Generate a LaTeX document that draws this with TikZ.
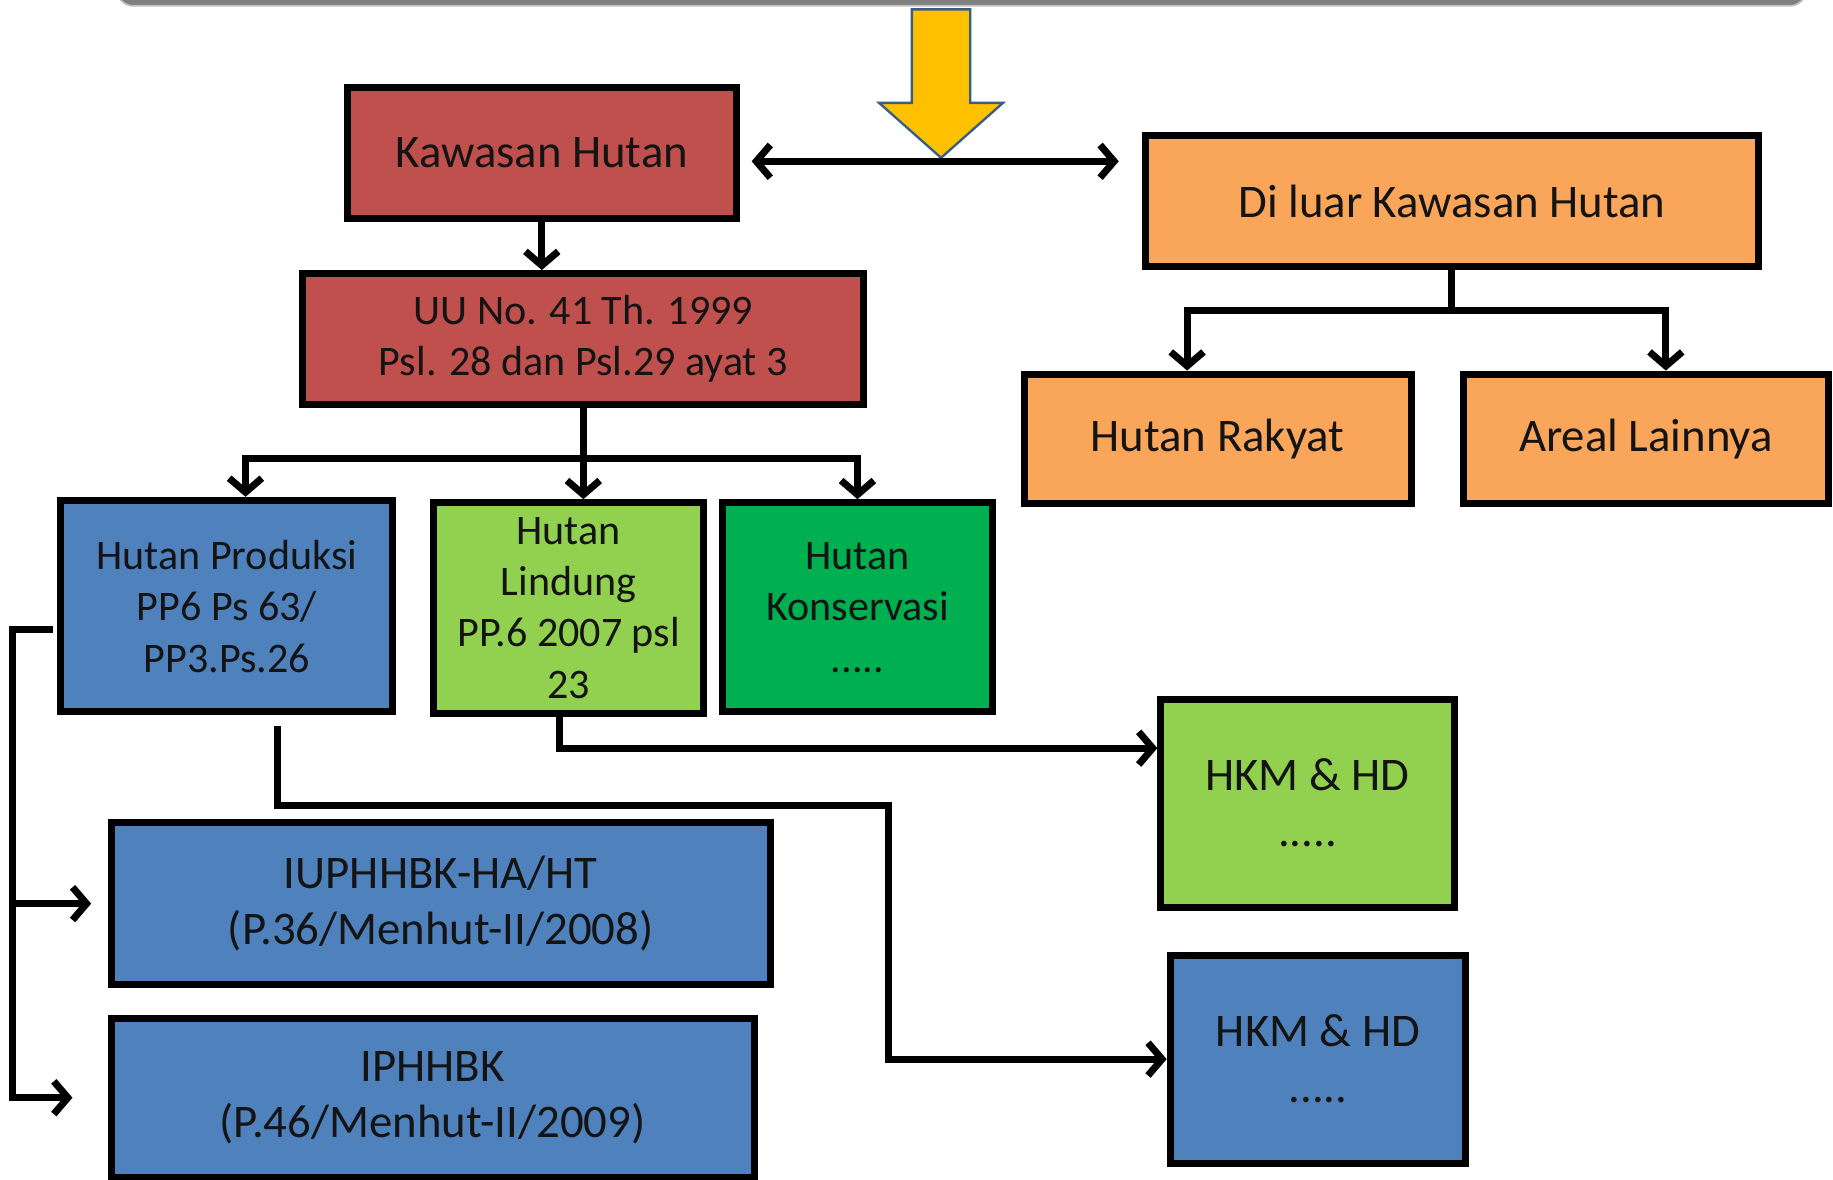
\documentclass[tikz,border=0pt]{standalone}
\usepackage{fontspec}
\setmainfont{Carlito}
\usetikzlibrary{arrows.meta,calc}
\definecolor{kred}{HTML}{C0504D}
\definecolor{korange}{HTML}{F9A65A}
\definecolor{kblue}{HTML}{4F81BD}
\definecolor{klgreen}{HTML}{92D050}
\definecolor{kgreen}{HTML}{00B050}
\definecolor{kyellow}{HTML}{FFC000}
\definecolor{koutline}{HTML}{385D8A}
\definecolor{kgray}{HTML}{7F7F7F}
\begin{document}
\begin{tikzpicture}[x=1pt,y=-1pt,
  box/.style={draw=black, line width=6pt, inner sep=0pt, align=center, text=black!92},
  bigtxt/.style={font=\fontsize{40}{48}\selectfont},
  midtxt/.style={font=\fontsize{36}{44}\selectfont},
  conn/.style={line width=6pt, line join=miter},
  >={Straight Barb[length=12pt,width=28pt]}
]
\useasboundingbox (0,0) rectangle (1568,1009);
% top bar
\fill[kgray, draw=gray!50, line width=1.5pt, rounded corners=14pt] (100,-40) rectangle (1545,5);
% yellow block arrow
\draw[fill=kyellow, draw=koutline, line width=2pt, line join=miter]
  (780,8) -- (830,8) -- (830,88) -- (858,88) -- (805,135) -- (752,88) -- (780,88) -- cycle;
% nodes
\node[box, bigtxt, fill=kred, minimum width=333pt, minimum height=112pt] (kaw) at (463.5,131) {Kawasan Hutan};
\node[box, midtxt, fill=kred, minimum width=480pt, minimum height=112pt] (uu) at (499,290) {UU No. 41 Th. 1999\\Psl. 28 dan Psl.29 ayat 3};
\node[box, bigtxt, fill=korange, minimum width=524pt, minimum height=112pt] (diluar) at (1242,172) {Di luar Kawasan Hutan};
\node[box, bigtxt, fill=korange, minimum width=331pt, minimum height=111pt] (rak) at (1041.5,375.5) {Hutan Rakyat};
\node[box, bigtxt, fill=korange, minimum width=312pt, minimum height=111pt] (are) at (1408,375.5) {Areal Lainnya};
\node[box, midtxt, fill=kblue, minimum width=284pt, minimum height=181pt] (prod) at (194,518.5) {Hutan Produksi\\PP6 Ps 63/\\PP3.Ps.26};
\node[box, midtxt, fill=klgreen, minimum width=231pt, minimum height=180pt] (lind) at (486.5,520) {Hutan\\Lindung\\PP.6 2007 psl\\23};
\node[box, midtxt, fill=kgreen, minimum width=231pt, minimum height=179pt] (kons) at (733.5,519.5) {Hutan\\Konservasi\\.....};
\node[box, bigtxt, fill=klgreen, minimum width=251pt, minimum height=178pt] (hkmg) at (1118.5,687) {HKM \& HD\\.....};
\node[box, bigtxt, fill=kblue, minimum width=253pt, minimum height=178pt] (hkmb) at (1127.5,906) {HKM \& HD\\.....};
\node[box, bigtxt, fill=kblue, minimum width=564pt, minimum height=138pt] (iup) at (377,773) {IUPHHBK-HA/HT\\(P.36/Menhut-II/2008)};
\node[box, bigtxt, fill=kblue, minimum width=550pt, minimum height=136pt] (iph) at (370,939) {IPHHBK\\(P.46/Menhut-II/2009)};
% connectors
\draw[conn, <->] ([xshift=10pt,yshift=-7pt]kaw.east) -- ([xshift=-20pt,yshift=-7pt]kaw.east -| diluar.west);
\draw[conn, ->] (kaw.south) -- (kaw.south |- uu.north);
\coordinate (bus) at (0,392);
\draw[conn] (uu.south) -- (uu.south |- bus);
\draw[conn, ->] (uu.south |- bus) -- (uu.south |- lind.north);
\draw[conn, <->] ([xshift=16pt]prod.north) -- ([xshift=16pt]prod.north |- bus) -- (kons.north |- bus) -- (kons.north);
\coordinate (dbus) at (0,266);
\draw[conn] (diluar.south) -- (diluar.south |- dbus);
\draw[conn, <->] ([xshift=-26pt]rak.north) -- ([xshift=-26pt]rak.north |- dbus) -- ([xshift=17pt]are.north |- dbus) -- ([xshift=17pt]are.north);
\draw[conn, ->] ([xshift=-8pt]lind.south) |- ([yshift=47pt]hkmg.west);
\draw[conn, ->] ([xshift=43pt,yshift=-9pt]prod.south) -- ++(0,68) -- ++(523,0) |- (hkmb.west);
\coordinate (lb) at ([xshift=-38pt,yshift=-20pt]prod.west);
\draw[conn, ->] ([xshift=-4pt,yshift=-20pt]prod.west) -- (lb) |- ([xshift=-30pt]iph.west);
\draw[conn, ->] (lb |- iup.west) -- ([xshift=-14pt]iup.west);
\end{tikzpicture}
\end{document}
